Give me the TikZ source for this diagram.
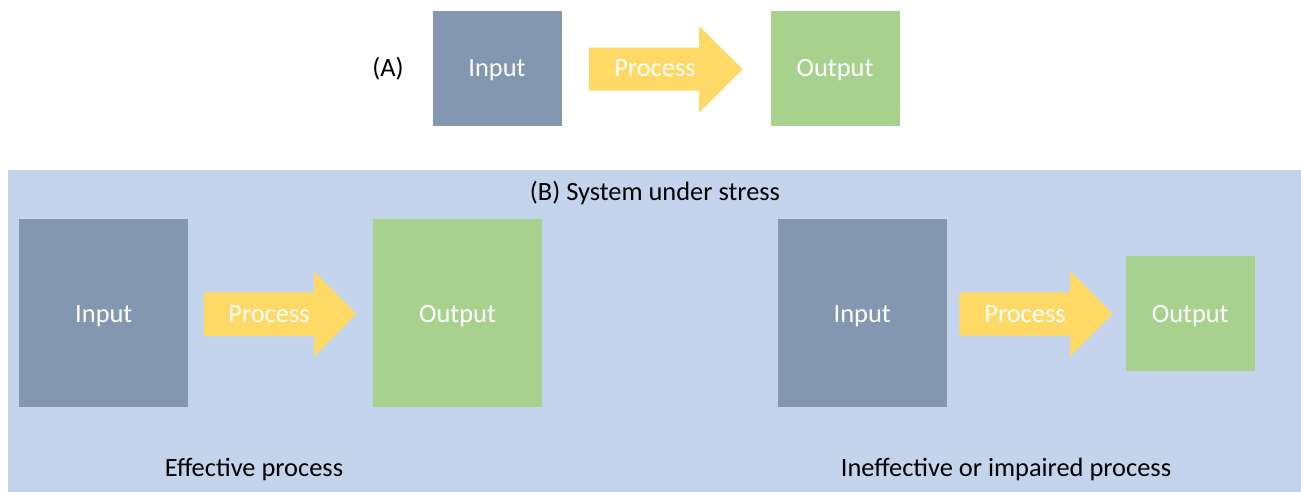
\documentclass[tikz,border=0pt]{standalone}
\usepackage{fontspec}
\setmainfont{Carlito}
\definecolor{inblue}{HTML}{8497B0}
\definecolor{outgreen}{HTML}{A9D18E}
\definecolor{procyellow}{HTML}{FFD966}
\definecolor{stressbg}{HTML}{C5D4ED}
\begin{document}
\begin{tikzpicture}[x=1bp,y=-1bp,
  boxtext/.style={text=white,font=\fontsize{26.5}{30}\selectfont,inner sep=0pt,anchor=base},
  lbl/.style={text=black,font=\fontsize{26.5}{30}\selectfont,inner sep=0pt,anchor=base},
  inbox/.style={fill=inblue},
  outbox/.style={fill=outgreen},
  procarrow/.style={fill=procyellow}]
\useasboundingbox (0,0) rectangle (1301,492);
\fill[white] (0,0) rectangle (1301,492);
% (A)
\node[lbl] (labA) at (388,77) {(A)};
\fill[inbox] (432.5,11) rectangle (561.5,126);
\node[boxtext] (inA) at (497,76.5) {Input};
\fill[procarrow] (589,47.7) -- (699,47.7) -- (699,26) -- (742.7,69.3) -- (699,112.7) -- (699,90.7) -- (589,90.7) -- cycle;
\node[boxtext] (procA) at (655,77) {Process};
\fill[outbox] (771,11) rectangle (899.5,126);
\node[boxtext] (outA) at (835,76.5) {Output};
% (B)
\fill[stressbg] (7.5,170) rectangle (1301,492);
\node[lbl] (labB) at (655,200.7) {(B) System under stress};
% left
\fill[inbox] (19.3,219.3) rectangle (188.3,407);
\node[boxtext] (inB1) at (103.8,322) {Input};
\fill[procarrow] (204,292.3) -- (314,292.3) -- (314,271.5) -- (356.7,314) -- (314,356.7) -- (314,336) -- (204,336) -- cycle;
\node[boxtext] (procB1) at (269,322) {Process};
\fill[outbox] (373,219.3) rectangle (542,407);
\node[boxtext] (outB1) at (457.5,322) {Output};
\node[lbl] (effB) at (254,476) {Effective process};
% right
\fill[inbox] (778,219.3) rectangle (946.5,407);
\node[boxtext] (inB2) at (862.2,322) {Input};
\fill[procarrow] (959.3,292.3) -- (1070,292.3) -- (1070,271) -- (1112.7,314) -- (1070,356.7) -- (1070,335.7) -- (959.3,335.7) -- cycle;
\node[boxtext] (procB2) at (1025,322) {Process};
\fill[outbox] (1125.7,255.7) rectangle (1254.7,370.7);
\node[boxtext] (outB2) at (1190.2,322) {Output};
\node[lbl] (ineffB) at (1006,476) {Ineffective or impaired process};
\end{tikzpicture}
\end{document}
